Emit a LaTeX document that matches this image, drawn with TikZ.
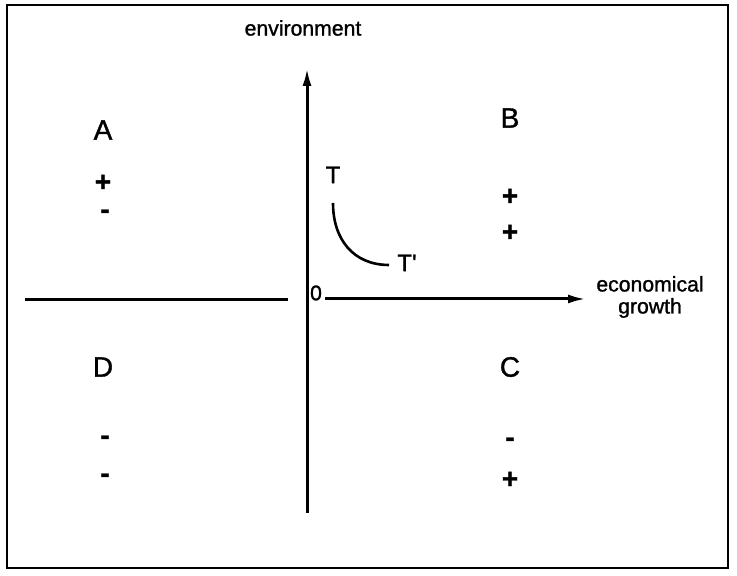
\documentclass[tikz,border=0pt]{standalone}
\usepackage{fontspec}
\setmainfont{Liberation Sans}[FakeBold=1.2]
\usetikzlibrary{arrows.meta,positioning,calc}

\begin{document}
\begin{tikzpicture}[x=0.5pt, y=0.5pt,
      axis/.style={line width=1.5pt, black},
      arr/.style={axis, -{Latex[length=9pt, width=4.5pt]}},
      lbl/.style={inner sep=0pt, font=\fontsize{10.6}{11}\selectfont, align=center},
      quad/.style={inner sep=0pt, font=\fontsize{14}{16}\selectfont},
      sgn/.style={inner sep=0pt, font=\fontsize{14}{16}\selectfont\bfseries}
    ]
    \useasboundingbox (0,0) rectangle (737,576);
    \draw[line width=1pt] (7,8) rectangle (728,571);
    % axes
    \coordinate (ybot) at (307,63);
    \coordinate (ytop) at (307,508);
    \coordinate (xl) at (25,276);
    \coordinate (xlm) at (288,276);
    \coordinate (xrm) at (325,277);
    \coordinate (xr) at (586,277);
    \draw[axis] (xl) -- (xlm);
    \draw[arr] (ybot) -- (ytop);
    \draw[arr] (xrm) -- (xr);
    \node[lbl] (env) at (303,548) {environment};
    \node[lbl] (econ) at (650,279) {economical\\growth};
    \node[lbl] (zero) at (316,283) {0};
    % path T -> T'
    \node[quad, font=\fontsize{12}{14}\selectfont] (T) at (333,401) {T};
    \node[quad, font=\fontsize{12}{14}\selectfont] (Tp) at (407,313) {T\textquotesingle};
    \coordinate (ts) at (333,373);
    \coordinate (te) at (389,311);
    \draw[line width=1.3pt] (ts) to[out=-90, in=180, looseness=1.1] (te);
    % quadrants
    \node[quad] (qa) at (103,446) {A};
    \node[quad] (qb) at (510,458) {B};
    \node[quad] (qc) at (510,209) {C};
    \node[quad] (qd) at (103,209) {D};
    \node[sgn] (a1) at (103,393) {+};
    \node[sgn] (a2) at (105,362) {-};
    \node[sgn] (b1) at (510,379) {+};
    \node[sgn] (b2) at (510,343) {+};
    \node[sgn] (c1) at (510,134) {-};
    \node[sgn] (c2) at (510,96) {+};
    \node[sgn] (d1) at (105,136) {-};
    \node[sgn] (d2) at (105,98) {-};
  \end{tikzpicture}
\end{document}
